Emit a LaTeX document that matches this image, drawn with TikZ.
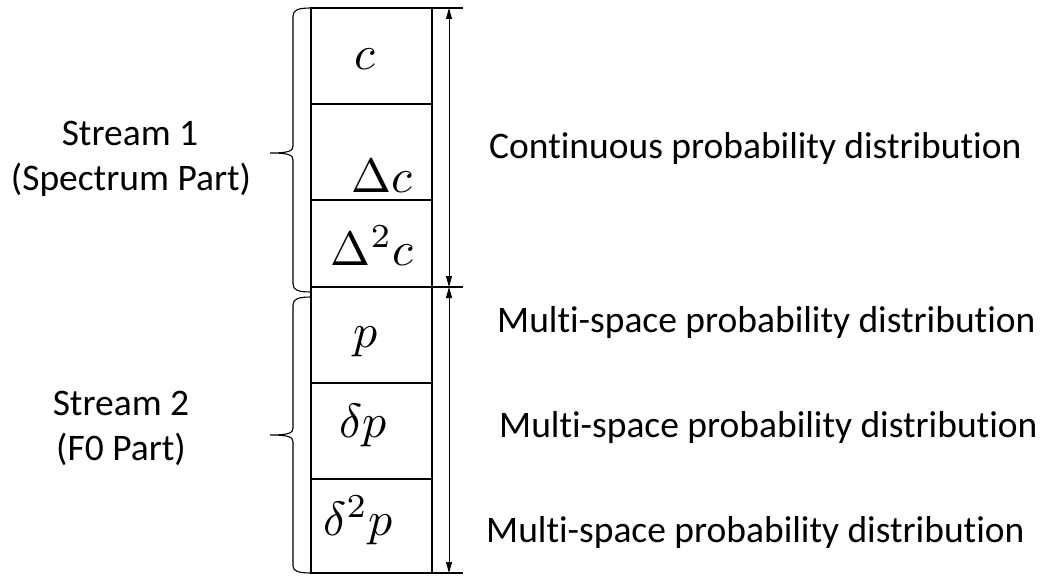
\documentclass[tikz,border=0pt]{standalone}
\usepackage{fontspec}
\setmainfont[Ligatures={NoCommon,NoRare,NoDiscretionary}]{Carlito}
\usetikzlibrary{arrows.meta}
\begin{document}
\begin{tikzpicture}[x=1pt,y=-1pt,
  lbl/.style={font=\fontsize{37.5}{45}\selectfont, inner sep=0pt},
  mth/.style={scale=4.8, inner sep=0pt},
  frame/.style={line width=1.3pt, black},
  bracestyle/.style={line width=1.1pt, black},
  dim/.style={line width=0.9pt, {Triangle[length=11pt,width=6pt]}-{Triangle[length=11pt,width=6pt]}}
]
\useasboundingbox (0,0) rectangle (1048,575);
% column
\coordinate (tl) at (311,8);
\coordinate (tr) at (463,8);
\coordinate (ml) at (311,287);
\coordinate (mr) at (463,287);
\coordinate (bl) at (311,573);
\coordinate (br) at (463,573);
\draw[frame] (tr) -- (tl) -- (bl) -- (br);
\draw[frame] (ml) -- (mr);
\draw[frame] (432,8) -- (432,573);
\draw[frame] (311,104) -- (432,104);
\draw[frame] (311,200) -- (432,200);
\draw[frame] (311,383) -- (432,383);
\draw[frame] (311,479) -- (432,479);
% arrows
\coordinate (a1) at (449,8);
\coordinate (a2) at (449,287);
\coordinate (a3) at (449,573);
\draw[dim] (a1) -- (a2);
\draw[dim] (a2) -- (a3);
% braces
\draw[bracestyle] (311,8) .. controls (298,8) and (293,10) .. (293,16) -- (293,146)
  .. controls (293,151) and (289,153) .. (270,153)
  .. controls (289,153) and (293,155) .. (293,160) -- (293,284)
  .. controls (293,290) and (298,292) .. (311,292);
\draw[bracestyle] (311,297) .. controls (298,297) and (293,299) .. (293,305) -- (293,428)
  .. controls (293,433) and (289,435) .. (270,435)
  .. controls (289,435) and (293,437) .. (293,442) -- (293,566)
  .. controls (293,571) and (298,573) .. (311,573);
% math entries
\node[mth, anchor=base] (c) at (365,70) {$c$};
\node[mth, anchor=base] (dc) at (382,192) {$\Delta c$};
\node[mth, anchor=base] (ddc) at (372,265) {$\Delta^2 c$};
\node[mth, anchor=base] (p) at (366,347) {$p$};
\node[mth, anchor=base] (dp) at (363,437) {$\delta p$};
\node[mth, anchor=base] (ddp) at (358,535) {$\delta^2 p$};
% right labels
\node[lbl, anchor=base west] (l1) at (489,158) {Continuous probability distribution};
\node[lbl, anchor=base west] (l2) at (497,332) {Multi-space probability distribution};
\node[lbl, anchor=base west] (l3) at (499,437) {Multi-space probability distribution};
\node[lbl, anchor=base west] (l4) at (486,542) {Multi-space probability distribution};
% left labels
\node[lbl, anchor=base] (s1) at (130,145) {Stream 1};
\node[lbl, anchor=base] (s1b) at (131,190) {(Spectrum Part)};
\node[lbl, anchor=base] (s2) at (121,415) {Stream 2};
\node[lbl, anchor=base] (s2b) at (121,460) {(F0 Part)};
\end{tikzpicture}
\end{document}
